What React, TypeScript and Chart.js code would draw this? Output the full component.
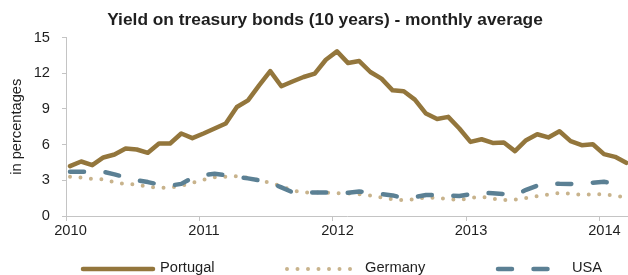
import { useEffect, useRef } from "react";
import { Chart, registerables } from "chart.js";

Chart.register(...registerables);

const chartTitle = "Yield on treasury bonds (10 years) - monthly average";
const yAxisTitle = "in percentages";
const tickYears = ["2010", "2011", "2012", "2013", "2014"];
const seriesNames = ["Portugal", "Germany", "USA"];

// Monthly averages, Jan 2010 .. Mar 2014
const portugal = [
  4.19, 4.58, 4.27, 4.92, 5.17, 5.67, 5.59, 5.31, 6.09, 6.09,
  6.93, 6.54, 6.93, 7.35, 7.77, 9.16, 9.72, 10.98, 12.18, 10.9,
  11.3, 11.68, 11.96, 13.13, 13.83, 12.85, 13.02, 12.1, 11.54, 10.56,
  10.48, 9.78, 8.61, 8.15, 8.33, 7.35, 6.23, 6.45, 6.14, 6.17,
  5.45, 6.37, 6.87, 6.6, 7.12, 6.29, 5.95, 6.03, 5.2, 4.97,
  4.47,
];
const germany = [
  3.3, 3.23, 3.11, 3.08, 2.83, 2.68, 2.65, 2.44, 2.37, 2.39,
  2.53, 2.78, 3.05, 3.25, 3.3, 3.35, 3.2, 3.0, 2.8, 2.5,
  2.15, 1.98, 1.98, 1.96, 1.92, 1.9, 1.83, 1.72, 1.55, 1.4,
  1.34, 1.4, 1.56, 1.53, 1.41, 1.34, 1.53, 1.61, 1.45, 1.34,
  1.37, 1.52, 1.66, 1.8, 1.93, 1.87, 1.78, 1.82, 1.83, 1.71,
  1.57,
];
const usa = [
  3.71, 3.71, 3.71, 3.71, 3.5, 3.25, 3.0, 2.85, 2.65, 2.55,
  2.7, 3.2, 3.45, 3.55, 3.42, 3.3, 3.16, 3.0, 2.8, 2.4,
  2.0, 1.95, 1.98, 1.97, 1.95, 1.95, 2.05, 2.0, 1.85, 1.73,
  1.5, 1.6, 1.76, 1.76, 1.72, 1.68, 1.82, 1.95, 1.92, 1.85,
  1.76, 2.2, 2.55, 2.74, 2.7, 2.69, 2.74, 2.8, 2.87, 2.74,
  2.65,
];

const MONTH_OFFSET = 0.36; // first observation sits slightly after the year tick
const FONT = '"Liberation Sans", Arial, sans-serif';
const TEXT = "#1f1f1f";
const AXIS = "#c4c4c4";

const toPoints = (arr: number[]) => arr.map((v, i) => ({ x: i, y: v }));

const titlePlugin = {
  id: "customTitle",
  afterDraw(chart: any) {
    const ctx = chart.ctx;
    ctx.save();
    ctx.font = `bold 17.33px ${FONT}`;
    ctx.fillStyle = TEXT;
    ctx.textAlign = "center";
    ctx.textBaseline = "middle";
    ctx.fillText(chartTitle, 325, 20);
    ctx.restore();
  },
};

const legendPlugin = {
  id: "customLegend",
  afterDraw(chart: any) {
    const ctx = chart.ctx;
    const starts = [83, 287, 498];
    const textX = [160, 365, 572];
    const y = 269;
    ctx.save();
    chart.data.datasets.forEach((ds: any, i: number) => {
      ctx.beginPath();
      ctx.strokeStyle = ds.borderColor;
      ctx.lineWidth = ds.borderWidth;
      ctx.lineCap = ds.borderCapStyle || "butt";
      ctx.setLineDash(ds.borderDash || []);
      ctx.moveTo(starts[i], y);
      ctx.lineTo(starts[i] + 70, y);
      ctx.stroke();
      ctx.setLineDash([]);
      ctx.font = `14.67px ${FONT}`;
      ctx.fillStyle = TEXT;
      ctx.textAlign = "left";
      ctx.textBaseline = "middle";
      ctx.fillText(ds.label, textX[i], y - 1);
    });
    ctx.restore();
  },
};

export default function App() {
  const ref = useRef<HTMLCanvasElement | null>(null);

  useEffect(() => {
    document.body.style.margin = "0";
    if (!ref.current) return;
    const chart = new Chart(ref.current, {
      type: "line",
      data: {
        datasets: [
          {
            label: seriesNames[0],
            data: toPoints(portugal),
            borderColor: "#93763c",
            borderWidth: 4.5,
            borderCapStyle: "round",
            borderJoinStyle: "round",
            pointRadius: 0,
            tension: 0,
            order: 1,
          },
          {
            label: seriesNames[1],
            data: toPoints(germany),
            borderColor: "#c8b38c",
            borderWidth: 4,
            borderDash: [0, 10.5],
            borderCapStyle: "round",
            borderJoinStyle: "round",
            pointRadius: 0,
            tension: 0,
            order: 2,
          },
          {
            label: seriesNames[2],
            data: toPoints(usa),
            borderColor: "#5b8094",
            borderWidth: 4.5,
            borderDash: [14, 21.5],
            borderCapStyle: "round",
            borderJoinStyle: "round",
            pointRadius: 0,
            tension: 0,
            order: 0,
          },
        ],
      },
      options: {
        animation: false,
        responsive: false,
        devicePixelRatio: 1,
        layout: { padding: { top: 37.5, left: 0, right: 0, bottom: 0 } },
        plugins: {
          legend: { display: false },
          title: { display: false },
          tooltip: { enabled: false },
        },
        scales: {
          x: {
            type: "linear",
            min: -MONTH_OFFSET,
            max: 50.16,
            afterBuildTicks: (scale: any) => {
              scale.ticks = tickYears.map((_, k) => ({ value: 12 * k - MONTH_OFFSET }));
            },
            afterFit: (scale: any) => {
              scale.height = 59;
            },
            ticks: {
              autoSkip: false,
              maxRotation: 0,
              padding: 1,
              labelOffset: 4.5,
              color: TEXT,
              font: { family: FONT, size: 14.67 },
              callback: (v: any) => {
                const k = Math.round((Number(v) + MONTH_OFFSET) / 12);
                return tickYears[k] ?? "";
              },
            },
            grid: {
              display: true,
              drawOnChartArea: false,
              drawTicks: true,
              tickLength: 5,
              color: AXIS,
            },
            border: { display: true, color: AXIS, width: 1 },
          },
          y: {
            min: 0,
            max: 15,
            afterFit: (scale: any) => {
              scale.width = 66;
            },
            ticks: {
              stepSize: 3,
              padding: 12,
              color: TEXT,
              font: { family: FONT, size: 14.67 },
            },
            title: {
              display: true,
              text: yAxisTitle,
              color: TEXT,
              font: { family: FONT, size: 14.67 },
              padding: { top: 8, bottom: 0 },
            },
            grid: {
              display: true,
              drawOnChartArea: false,
              drawTicks: true,
              tickLength: 4,
              color: AXIS,
            },
            border: { display: true, color: AXIS, width: 1 },
          },
        },
      },
      plugins: [titlePlugin, legendPlugin],
    } as any);
    return () => chart.destroy();
  }, []);

  return (
    <div style={{ width: 628, height: 275 }}>
      <canvas ref={ref} width={628} height={275} />
    </div>
  );
}
